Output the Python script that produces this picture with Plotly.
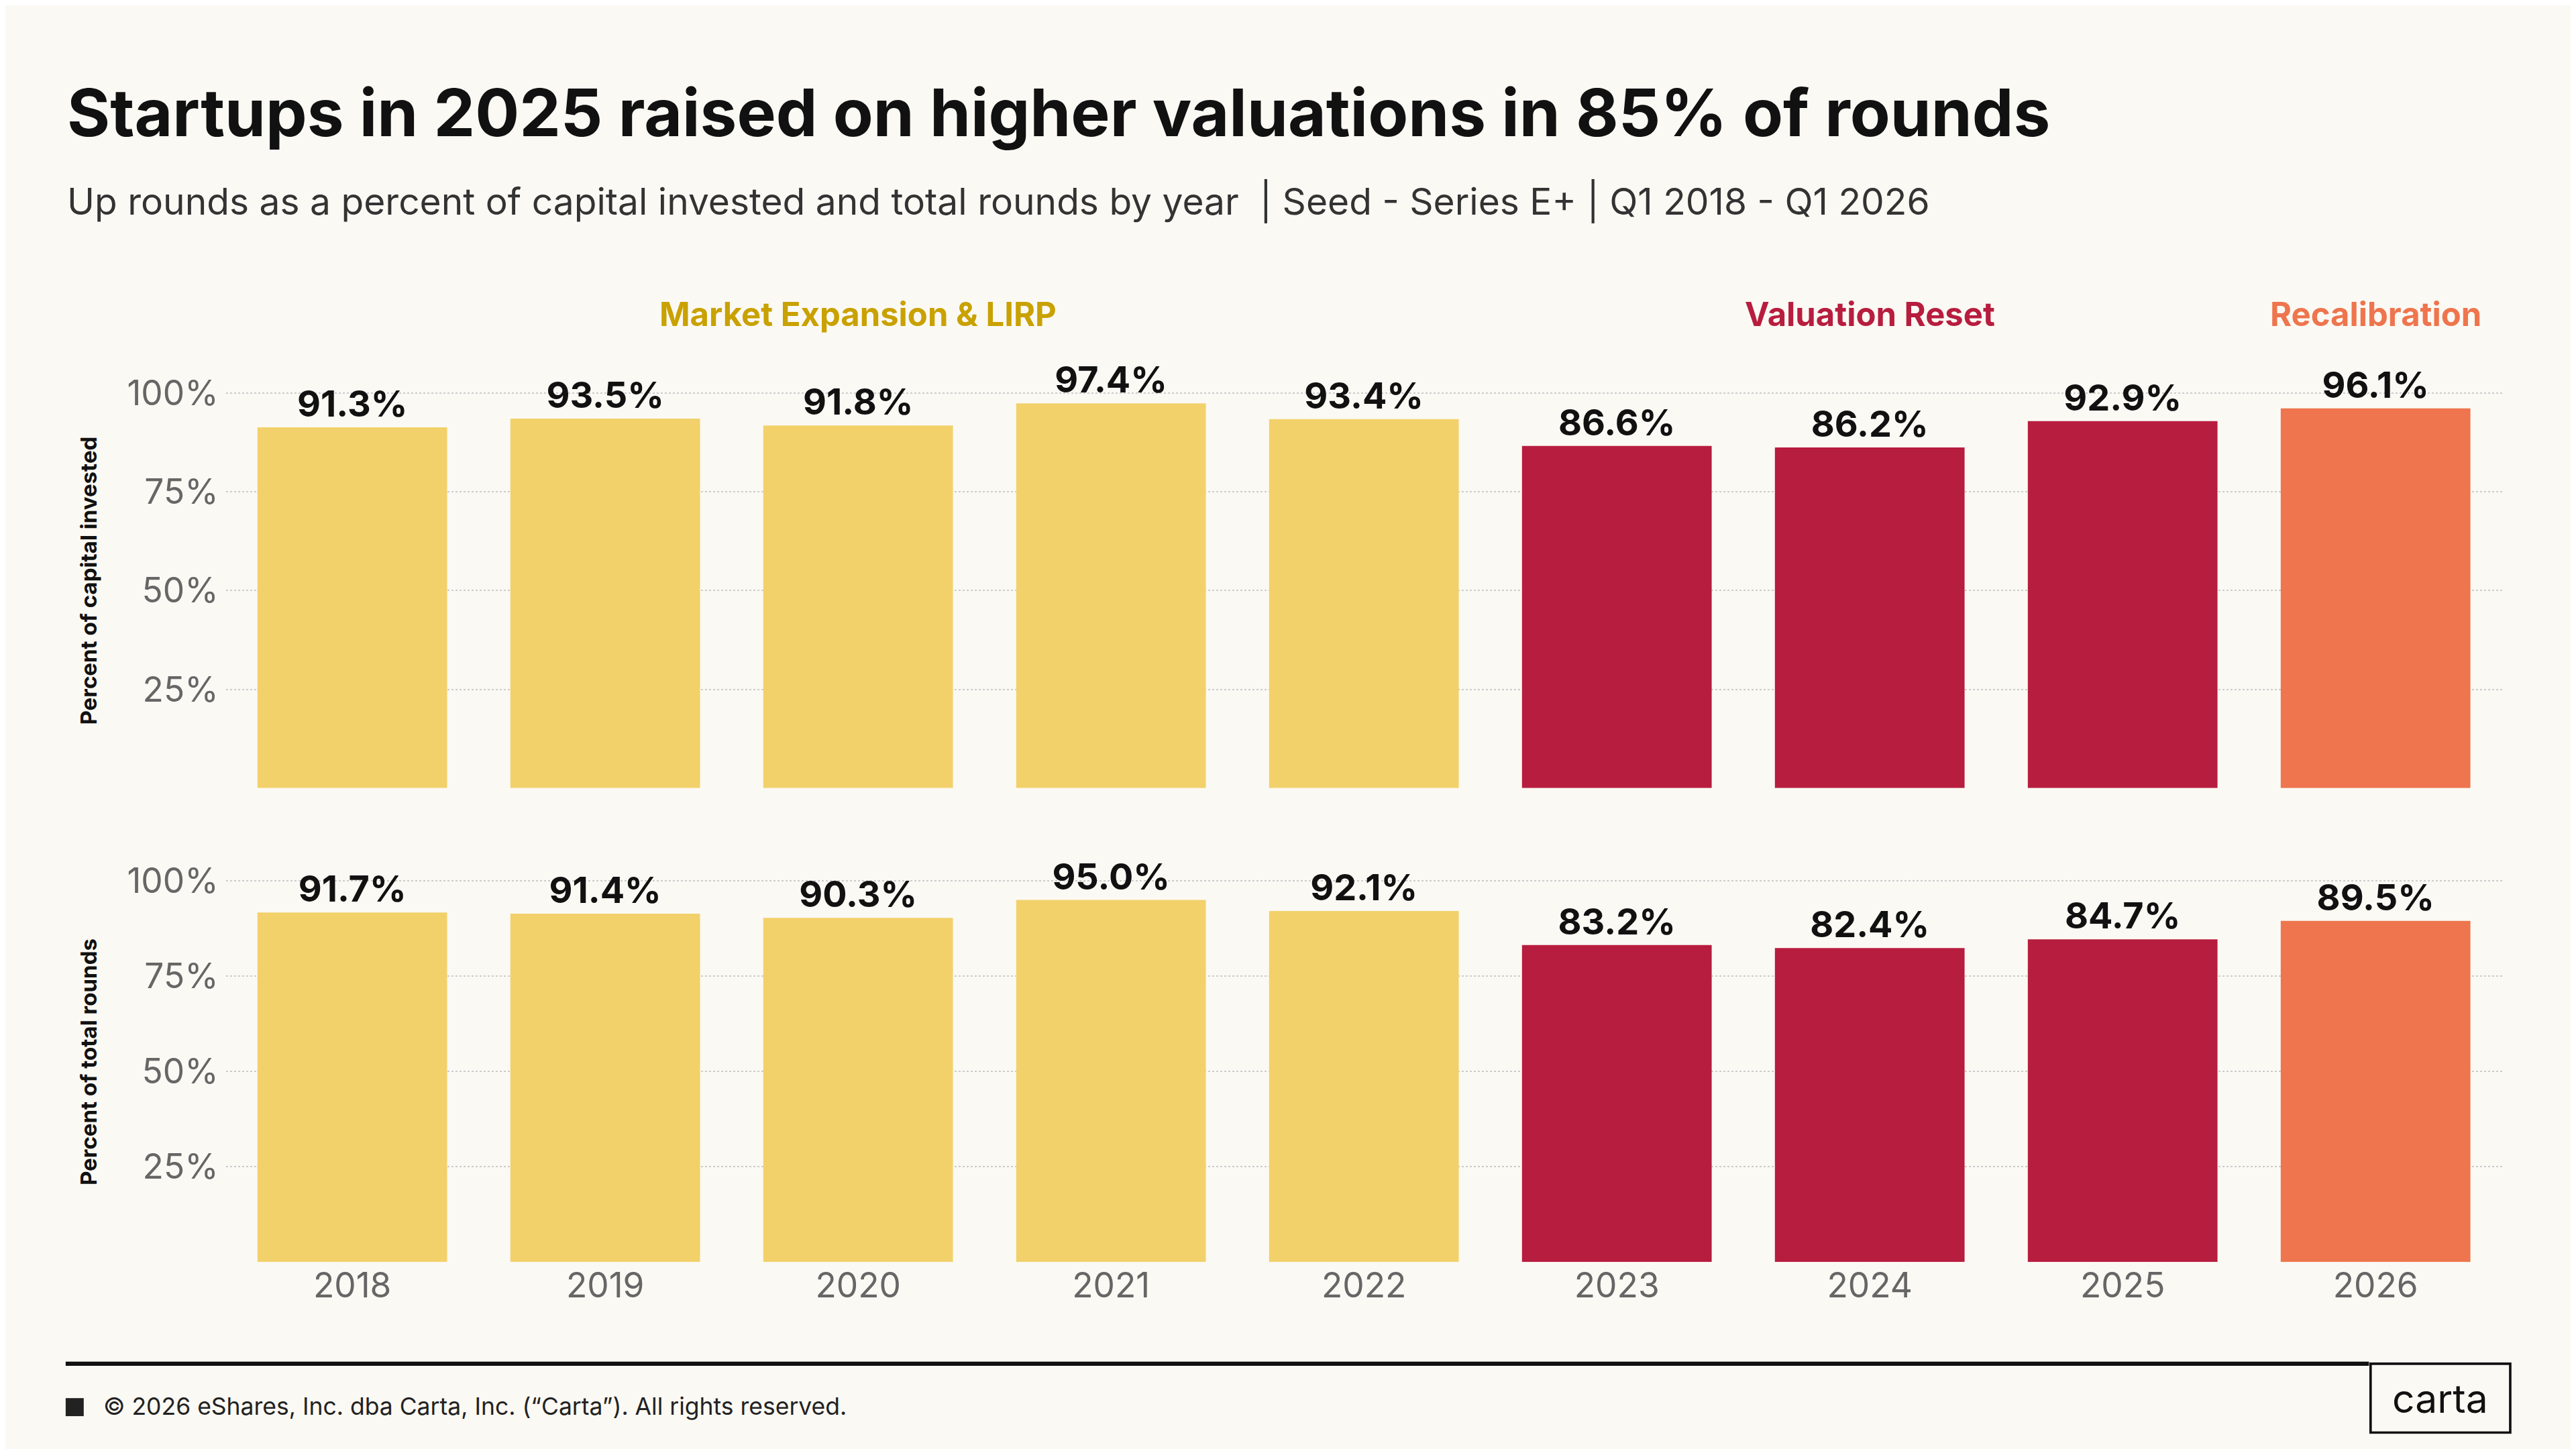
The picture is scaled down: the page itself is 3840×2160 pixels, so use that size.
import plotly.graph_objects as go

years = ["2018","2019","2020","2021","2022","2023","2024","2025","2026"]
capital_pct = [91.3, 93.5, 91.8, 97.4, 93.4, 86.6, 86.2, 92.9, 96.1]
rounds_pct = [91.7, 91.4, 90.3, 95.0, 92.1, 83.2, 82.4, 84.7, 89.5]
periods = ["Market Expansion & LIRP"]*5 + ["Valuation Reset"]*3 + ["Recalibration"]
period_colors = {"Market Expansion & LIRP": "#F2D16B", "Valuation Reset": "#B71D3E", "Recalibration": "#EE754D"}
label_colors = {"Market Expansion & LIRP": "#C9A100", "Valuation Reset": "#B71D3E", "Recalibration": "#EE754D"}
period_label_x = [("Market Expansion & LIRP", 2), ("Valuation Reset", 6), ("Recalibration", 8)]
ytick_vals = [25, 50, 75, 100]
ytick_text = ["25%", "50%", "75%", "100%"]

W, H = 3840, 2160
S = W / 1568
FONT = "Inter"
OFF = 3.3
bar_colors = [period_colors[p] for p in periods]

fig = go.Figure()
for vals, ax in [(capital_pct, ""), (rounds_pct, "2")]:
    fig.add_trace(go.Bar(
        x=list(range(len(years))), y=vals, marker=dict(color=bar_colors, line_width=0),
        text=[f"{v:.1f}%" for v in vals], textposition="outside", cliponaxis=False,
        textfont=dict(family=FONT, size=22*S, color="#111111", weight="bold"),
        xaxis="x"+ax, yaxis="y"+ax, showlegend=False))

def px(x): return (x - OFF) / 1568
def py(y): return 1 - (y - OFF) / 882

xcommon = dict(range=[-0.5, 8.5], domain=[px(137.5), px(1523)], showgrid=False, zeroline=False,
               showline=False, ticks="")
ycommon = dict(range=[0, 105], tickvals=ytick_vals, ticktext=ytick_text, showgrid=True,
               gridcolor="#CCCCCC", griddash="dot", gridwidth=2, zeroline=False, showline=False,
               tickfont=dict(family=FONT, size=21*S, color="#666666"), ticks="", ticklabelstandoff=10)

fig.update_layout(
    width=W, height=H, paper_bgcolor="#FBF9F4", plot_bgcolor="#FBF9F4",
    margin=dict(l=0, r=0, t=0, b=0), bargap=0.25,
    xaxis=dict(**xcommon, anchor="y", showticklabels=False),
    xaxis2=dict(**xcommon, anchor="y2", tickvals=list(range(9)), ticktext=years,
                tickfont=dict(family=FONT, size=21*S, color="#666666")),
    yaxis=dict(**ycommon, domain=[py(479), py(226)], anchor="x",
               title=dict(text="Percent of capital invested", standoff=14*S,
                          font=dict(family=FONT, size=13.5*S, color="#111111", weight="bold"))),
    yaxis2=dict(**ycommon, domain=[py(768), py(524)], anchor="x2",
                title=dict(text="Percent of total rounds", standoff=14*S,
                           font=dict(family=FONT, size=13.5*S, color="#111111", weight="bold"))),
)

ann = [
    dict(text="<b>Startups in 2025 raised on higher valuations in 85% of rounds</b>", x=px(40), y=py(67),
         xref="paper", yref="paper", xanchor="left", yanchor="middle", showarrow=False,
         font=dict(family=FONT, size=40*S, color="#111111")),
    dict(text="Up rounds as a percent of capital invested and total rounds by year  | Seed - Series E+ | Q1 2018 - Q1 2026",
         x=px(40), y=py(121), xref="paper", yref="paper", xanchor="left", yanchor="middle", showarrow=False,
         font=dict(family=FONT, size=22.5*S, color="#333333")),
    dict(text="© 2026 eShares, Inc. dba Carta, Inc. (“Carta”). All rights reserved.", x=px(62), y=py(856),
         xref="paper", yref="paper", xanchor="left", yanchor="middle", showarrow=False,
         font=dict(family=FONT, size=14.5*S, color="#222222")),
    dict(text="carta", x=px(1485.5), y=py(851), xref="paper", yref="paper", xanchor="center", yanchor="middle",
         showarrow=False, font=dict(family=FONT, size=24*S, color="#111111")),
]
for name, xi in period_label_x:
    ann.append(dict(text=f"<b>{name}</b>", x=xi, y=py(190), xref="x", yref="paper", xanchor="center",
                    yanchor="middle", showarrow=False,
                    font=dict(family=FONT, size=20*S, color=label_colors[name])))
fig.update_layout(annotations=ann)

fig.update_layout(shapes=[
    dict(type="line", xref="paper", yref="paper", x0=px(40), x1=px(1442), y0=py(830), y1=py(830),
         line=dict(color="#111111", width=2.5*S)),
    dict(type="rect", xref="paper", yref="paper", x0=px(1443), x1=px(1528), y0=py(830), y1=py(872),
         line=dict(color="#111111", width=1.5*S)),
    dict(type="rect", xref="paper", yref="paper", x0=px(40), x1=px(51), y0=py(851), y1=py(862),
         fillcolor="#222222", line_width=0),
])

fig.write_html("out.html")
